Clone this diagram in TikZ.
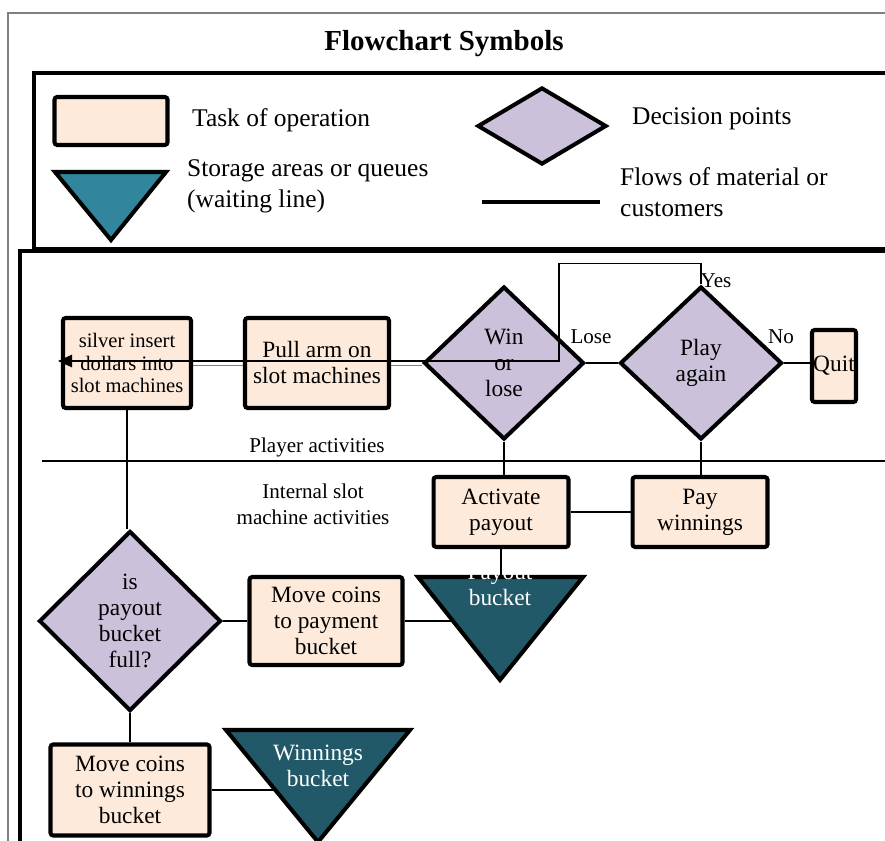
\documentclass[tikz,border=0pt]{standalone}
\usepackage{fontspec}
\setmainfont{Liberation Serif}
\usetikzlibrary{shapes.geometric,arrows.meta}

\definecolor{taskfill}{HTML}{FDEADA}
\definecolor{choicefill}{HTML}{CCC1DA}
\definecolor{keyqueue}{HTML}{31859C}
\definecolor{queuefill}{HTML}{215968}

\newcommand{\flowfont}{\fontsize{13.3}{14.8}\selectfont}
\newcommand{\smallflow}{\fontsize{11.7}{13}\selectfont}
\newcommand{\labelfont}{\fontsize{12}{14.6}\selectfont}
\newcommand{\keyfont}{\fontsize{14.5}{17.6}\selectfont}

\tikzset{
  task/.style={draw, line width=2.3pt, fill=taskfill, rounded corners=1.5pt,
    align=center, inner sep=0pt, font=\flowfont},
  choice/.style={diamond, draw, line width=2.3pt, fill=choicefill,
    align=center, inner sep=0pt, font=\flowfont},
  queue/.style={draw, line width=2.3pt, fill=queuefill},
  flow/.style={line width=1.4pt},
}

\begin{document}
\begin{tikzpicture}[x=0.02cm,y=-0.02cm]
\useasboundingbox (0,0) rectangle (885,841);
\clip (0,0) rectangle (885,841);

% frames
\draw[gray,line width=0.6pt] (8,900) -- (8,13) -- (900,13);
\node[font=\bfseries\fontsize{16.5}{20}\selectfont] (title) at (444,44) {Flowchart Symbols};
\draw[line width=2.3pt] (34,73) rectangle (900,249);
\draw[line width=2.3pt] (20,251) rectangle (900,900);

% legend
\node[task, minimum width=2.26cm, minimum height=0.96cm] (keytask) at (111,121) {};
\node[anchor=west, font=\keyfont] (keytasktext) at (186,120) {Task of operation};
\draw[queue, fill=keyqueue] (55,172) -- (166,172) -- (111,240) -- cycle;
\node[anchor=west, align=left, font=\keyfont] (keyqueuetext) at (181,186) {Storage areas or queues\\(waiting line)};
\node[choice, minimum width=2.58cm, minimum height=1.54cm] (keychoice) at (542,126) {};
\node[anchor=west, font=\keyfont] (keychoicetext) at (626,119) {Decision points};
\draw[line width=2pt] (482,202) -- (600,202);
\node[anchor=west, align=left, font=\keyfont] (keyflowtext) at (614,192) {Flows of material or\\customers};

% player activities
\node[task, font=\smallflow, minimum width=2.56cm, minimum height=1.8cm] (insert) at (127,363) {silver insert\\dollars into\\slot machines};
\node[task, minimum width=2.88cm, minimum height=1.8cm] (pull) at (317,363) {Pull arm on\\slot machines};
\node[choice, minimum width=3.2cm, minimum height=3.06cm] (win) at (504,363) {Win\\or\\lose};
\node[choice, minimum width=3.24cm, minimum height=3.06cm] (again) at (701,363) {Play\\again};
\node[task, minimum width=0.88cm, minimum height=1.44cm] (quit) at (834,366) {Quit};

\draw[line width=0.6pt] (42,461) -- (900,461);
\node[font=\labelfont] (player) at (317,447) {Player activities};
\node[font=\labelfont, align=center] (internal) at (313,504) {Internal slot\\machine activities};

% internal activities
\node[task, minimum width=2.7cm, minimum height=1.4cm] (activate) at (501,512) {Activate\\payout};
\node[task, minimum width=2.7cm, minimum height=1.4cm] (pay) at (700,512) {Pay\\winnings};
\node[choice, minimum width=3.64cm, minimum height=3.6cm] (full) at (130,621) {is\\payout\\bucket\\full?};
\node[task, minimum width=3.06cm, minimum height=1.76cm] (movepay) at (326,621) {Move coins\\to payment\\bucket};
\node[task, minimum width=3.18cm, minimum height=1.82cm] (movewin) at (130,790) {Move coins\\to winnings\\bucket};

\draw[queue] (418,577) -- (583,577) -- (500,680) -- cycle;
\coordinate (payin) at (501,577);
\coordinate (payside) at (453,621);
\node[text=white, align=center, font=\flowfont] (payout) at (500,585) {Payout\\bucket};
\draw[queue] (226,730) -- (410,730) -- (318,842) -- cycle;
\coordinate (winside) at (275,790);
\node[text=white, align=center, font=\flowfont] (winnings) at (318,766) {Winnings\\bucket};

% flows
\draw[gray, line width=0.9pt] ([yshift=-1.5pt]win.west) -- ([yshift=-1.5pt]pull.east)
  ([yshift=-1.5pt]pull.west) -- ([yshift=-1.5pt]insert.east);
\coordinate (back) at (58,361);
\draw[line width=1.1pt, -{Triangle[length=8pt,width=7pt]}] (again.north) -- ++(0,-21) -| (559,361) -- (back);
\draw[flow] (win.east) -- (again.west);
\draw[flow] (again.east) -- (again.east -| quit.west);
\draw[flow] (win.south) -- (win.south |- activate.north);
\draw[flow] (again.south) -- (again.south |- pay.north);
\draw[flow] (activate.east) -- (pay.west);
\draw[flow] (activate.south) -- (payin);
\draw[flow] (insert.south) -- (insert.south |- full.north);
\draw[flow] (full.east) -- (movepay.west);
\draw[flow] (movepay.east) -- (payside);
\draw[flow] (full.south) -- (movewin.north);
\draw[flow] (movewin.east) -- (winside);

\node[font=\labelfont] (lose) at (591,337) {Lose};
\node[font=\labelfont] (no) at (781,337) {No};
\node[font=\labelfont] (yes) at (716,281) {Yes};
\end{tikzpicture}
\end{document}
